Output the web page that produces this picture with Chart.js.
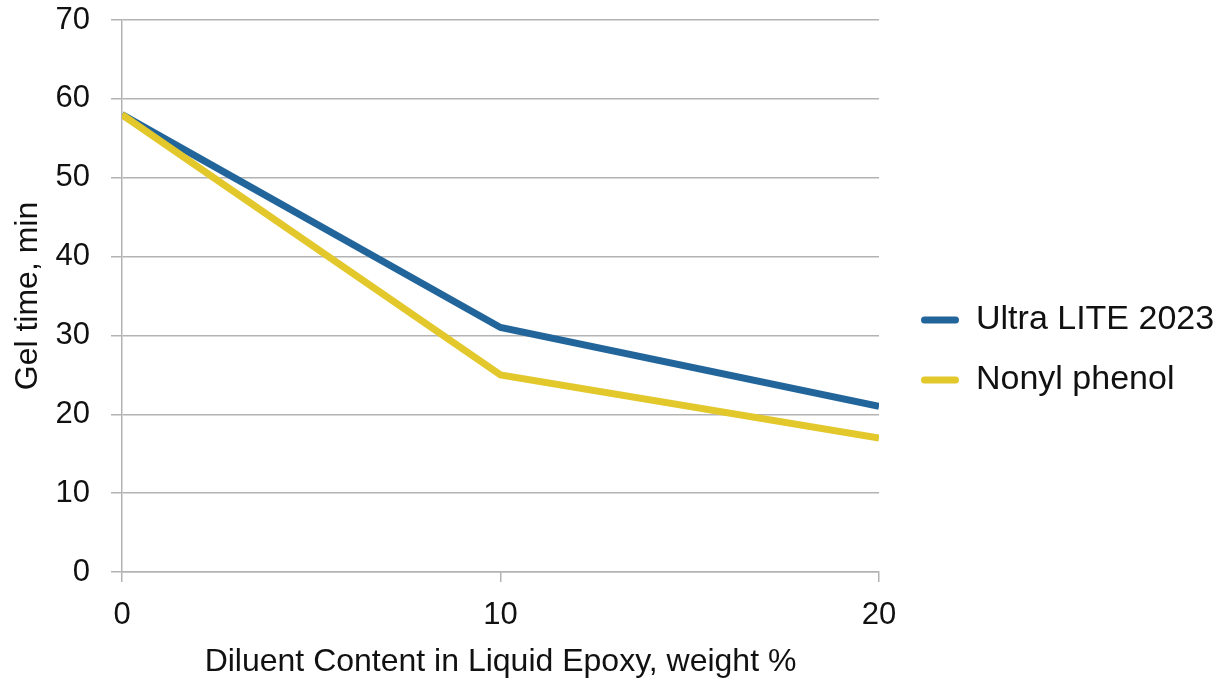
<!DOCTYPE html>
<html>
<head>
<meta charset="utf-8">
<script src="https://cdn.jsdelivr.net/npm/chart.js@4"></script>
<style>
  body { margin: 0; background: #fff; }
  #wrap { width: 1228px; height: 686px; }
</style>
</head>
<body>
<div id="wrap"><canvas id="gelChart" width="1228" height="686"></canvas></div>
<script>
// values
const diluentPct = [0, 10, 20];
const ultraLite = [58, 31, 21];
const nonylPhenol = [58, 25, 17];
const seriesNames = ['Ultra LITE 2023', 'Nonyl phenol'];

const blue = '#22659b';
const yellow = '#e3c82c';
const gridColor = '#b3b3b3';
const fontFamily = '"Liberation Sans", Arial, sans-serif';

function toPoints(ys) {
    return diluentPct.map((x, i) => ({ x: x, y: ys[i] }));
}

// legend sits to the right of the plot, a little lower than the middle
const legendBox = {
    id: 'legendBox',
    beforeLayout(chart) {
        const lg = chart.legend;
        if (lg && !lg._fixed) {
            const fit = lg.fit.bind(lg);
            lg.fit = function () { fit(); this.width = 349; };
            lg._fixed = true;
        }
    },
    afterLayout(chart) {
        const lg = chart.legend;
        lg.left = chart.chartArea.right + 16;
        lg.top = chart.chartArea.top + 54;
        lg.bottom = chart.chartArea.bottom + 54;
    }
};

const ctx = document.getElementById('gelChart').getContext('2d');
new Chart(ctx, {
    type: 'line',
    data: {
        datasets: [
            {
                label: seriesNames[0],
                data: toPoints(ultraLite),
                borderColor: blue,
                backgroundColor: blue,
                borderWidth: 7,
                pointRadius: 0,
                tension: 0,
                order: 1
            },
            {
                label: seriesNames[1],
                data: toPoints(nonylPhenol),
                borderColor: yellow,
                backgroundColor: yellow,
                borderWidth: 7,
                pointRadius: 0,
                tension: 0,
                order: 0
            }
        ]
    },
    options: {
        responsive: false,
        animation: false,
        layout: { padding: 0 },
        plugins: {
            tooltip: { enabled: false },
            legend: {
                position: 'right',
                align: 'center',
                labels: {
                    boxWidth: 38,
                    boxHeight: 7,
                    useBorderRadius: true,
                    borderRadius: 3.5,
                    padding: 26,
                    color: '#111',
                    font: { family: fontFamily, size: 34 },
                    sort: (a, b) => a.datasetIndex - b.datasetIndex,
                    generateLabels(chart) {
                        const items = Chart.defaults.plugins.legend.labels.generateLabels(chart);
                        items.forEach(it => { it.lineWidth = 0; });
                        return items;
                    }
                }
            }
        },
        scales: {
            x: {
                type: 'linear',
                min: 0,
                max: 20,
                ticks: {
                    stepSize: 10,
                    padding: 15,
                    color: '#111',
                    font: { family: fontFamily, size: 31 }
                },
                grid: {
                    drawOnChartArea: false,
                    tickLength: 10,
                    color: gridColor,
                    lineWidth: 1.5
                },
                border: { color: gridColor, width: 1.5 },
                title: {
                    display: true,
                    text: 'Diluent Content in Liquid Epoxy, weight %',
                    color: '#111',
                    font: { family: fontFamily, size: 32 },
                    padding: { top: 0, bottom: 5 }
                },
                afterFit(scale) { scale.height = 114; }
            },
            y: {
                min: 0,
                max: 70,
                ticks: {
                    stepSize: 10,
                    padding: 21,
                    color: '#111',
                    font: { family: fontFamily, size: 31 }
                },
                grid: {
                    tickLength: 11,
                    color: gridColor,
                    lineWidth: 1.5
                },
                border: { color: gridColor, width: 1.5 },
                title: {
                    display: true,
                    text: 'Gel time, min',
                    color: '#111',
                    font: { family: fontFamily, size: 32 },
                    padding: { top: 9, bottom: 0 }
                },
                afterFit(scale) {
                    scale.width = 122;
                    scale.paddingTop = 20;
                }
            }
        }
    },
    plugins: [legendBox]
});
</script>
</body>
</html>
